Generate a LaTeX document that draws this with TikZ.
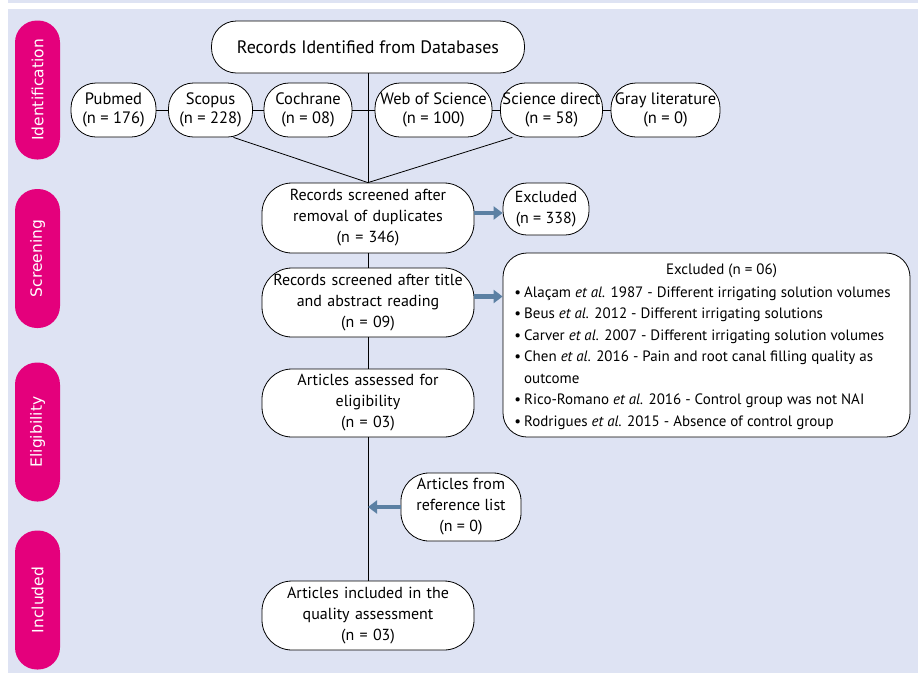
\documentclass[tikz,border=0pt]{standalone}
\usepackage{fontspec}
\setmainfont{PT Sans}
\newfontfamily\pillfont{DejaVu Sans}
\usetikzlibrary{arrows.meta,calc}
\definecolor{panelc}{HTML}{DEE3F3}
\definecolor{pillc}{HTML}{E4007C}
\definecolor{arrowc}{HTML}{5B80A3}
\begin{document}
\begin{tikzpicture}[x=1pt,y=-1pt,
  box/.style={draw=black, fill=white, line width=0.8pt, rounded corners=24pt, align=center, inner sep=2pt,
    font=\fontsize{16}{21}\selectfont},
  rowbox/.style={box, rounded corners=25pt, font=\fontsize{16.5}{19}\selectfont, minimum height=54pt},
  mainbox/.style={box, rounded corners=30pt, minimum width=212pt, minimum height=69pt, text width=205pt},
  pill/.style={fill=pillc, rounded corners=22pt, text=white, rotate=90, minimum width=139pt, minimum height=45pt,
    inner sep=0pt, font=\pillfont\fontsize{15.5}{18}\selectfont},
  conn/.style={draw=black, line width=0.8pt},
  arr/.style={draw=arrowc, line width=4.5pt, -{Triangle[width=13pt,length=9pt]}}]
\useasboundingbox (0,0) rectangle (918,673);
\fill[white] (0,0) rectangle (918,673);
\fill[panelc] (8,0) rectangle (918,3);
\fill[panelc] (8,9) rectangle (918,673);
% side pills
\node[pill] (pid) at (37.5,90) {Identification};
\node[pill] (psc) at (37.5,258.5) {Screening};
\node[pill] (pel) at (37.5,432) {Eligibility};
\node[pill] (pin) at (37.5,600) {Included};
% top
\node[box, rounded corners=25pt, minimum width=313pt, minimum height=52pt, font=\fontsize{18}{20}\selectfont] (top) at (368,47) {Records Identified from Databases};
% databases
\node[rowbox, minimum width=85pt] (pub) at (113.5,110) {Pubmed\\(n = 176)};
\node[rowbox, minimum width=84pt] (sco) at (210.5,110) {Scopus\\(n = 228)};
\node[rowbox, minimum width=88pt] (coc) at (308,110) {Cochrane\\(n = 08)};
\node[rowbox, minimum width=117pt] (wos) at (433.5,110) {Web of Science\\(n = 100)};
\node[rowbox, minimum width=99pt] (sd) at (551.5,110) {Science direct\\(n = 58)};
\node[rowbox, minimum width=109pt] (gray) at (665.5,110) {Gray literature\\(n = 0)};
% main column
\node[mainbox, minimum height=70pt] (scr1) at (368,218) {Records screened after\\removal of duplicates\\(n = 346)};
\node[box, rounded corners=24pt, minimum width=86pt, minimum height=52pt] (exc1) at (546,209) {Excluded\\(n = 338)};
\node[mainbox] (scr2) at (368,302.5) {Records screened after title\\and abstract reading\\(n = 09)};
\node[box, rounded corners=24pt, minimum width=407pt, minimum height=184pt, inner sep=0pt] (big) at (706.5,345) {%
  \fontsize{15}{21}\selectfont\rule{0pt}{17pt}\hspace*{30pt}Excluded (n = 06)\\[4pt]
  \fontsize{15}{21.5}\selectfont
  \begin{tabular}{@{}l@{\hspace{3pt}}l@{\hspace{8pt}}}
  \textbullet & Ala\c{c}am \textit{et al.} 1987 - Different irrigating solution volumes\\
  \textbullet & Beus \textit{et al.} 2012 - Different irrigating solutions\\
  \textbullet & Carver \textit{et al.} 2007 - Different irrigating solution volumes\\
  \textbullet & Chen \textit{et al.} 2016 - Pain and root canal filling quality as\\
   & outcome\\
  \textbullet & Rico-Romano \textit{et al.} 2016 - Control group was not NAI\\
  \textbullet & Rodrigues \textit{et al.} 2015 - Absence of control group
  \end{tabular}};
\node[mainbox, minimum height=68pt] (elig) at (368,403) {Articles assessed for\\eligibility\\(n = 03)};
\node[box, rounded corners=28pt, minimum width=120pt, minimum height=68pt] (ref) at (461,507) {Articles from\\reference list\\(n = 0)};
\node[mainbox] (incl) at (368,615.5) {Articles included in the\\quality assessment\\(n = 03)};
% connectors
\draw[conn] (pub.east) -- (sco.west);
\draw[conn] (sco.east) -- (coc.west);
\draw[conn] (coc.east) -- (wos.west);
\draw[conn] (wos.east) -- (sd.west);
\draw[conn] (sd.east) -- (gray.west);
\draw[conn] (top.south) -- (scr1.north);
\draw[conn] (sco.-50) -- (scr1.north);
\draw[conn] (sd.-145) -- (scr1.north);
\draw[conn] (scr1.south) -- (scr2.north);
\draw[conn] (scr2.south) -- (elig.north);
\draw[conn] (elig.south) -- (incl.north);
\draw[arr] ([yshift=5pt]scr1.east) -- ([yshift=5pt]scr1.east -| exc1.west);
\draw[arr] ([yshift=6pt]scr2.east) -- ([yshift=6pt]scr2.east -| big.west);
\draw[arr] (ref.west) -- (ref.west -| incl.north);
\end{tikzpicture}
\end{document}
